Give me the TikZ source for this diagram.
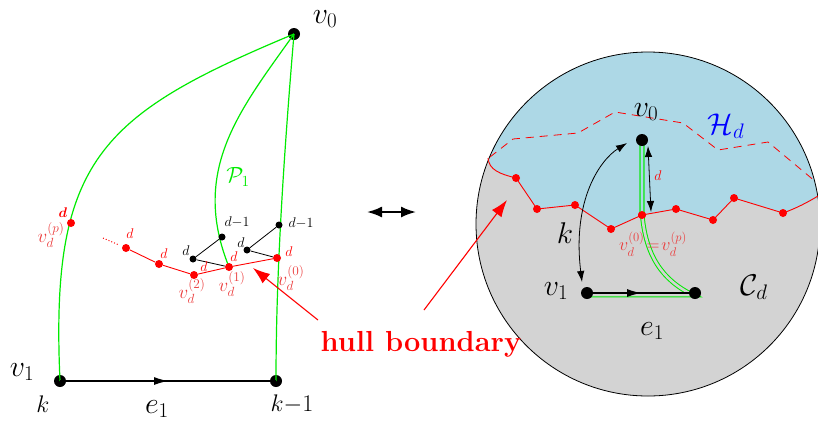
\documentclass[tikz,border=0pt]{standalone}
\usepackage{fix-cm}
\usepackage{amsmath}
\usetikzlibrary{arrows.meta,decorations.markings}
\definecolor{lblue}{HTML}{ADD8E6}
\definecolor{lgray}{HTML}{D3D3D3}
\definecolor{vgreen}{RGB}{0,235,0}
\definecolor{lred}{RGB}{235,60,60}
\tikzset{
  bdot/.style={circle,fill=black,inner sep=0pt,minimum size=12pt},
  sdot/.style={circle,fill=black,inner sep=0pt,minimum size=7pt},
  rdot/.style={circle,fill=red,inner sep=0pt,minimum size=8pt},
  lab/.style={inner sep=0pt,font=\fontsize{30}{32}\selectfont},
  mlab/.style={inner sep=0pt,font=\fontsize{24}{26}\selectfont},
  vlab/.style={inner sep=0pt,text=lred,font=\fontsize{19}{21}\selectfont},
  slab/.style={inner sep=0pt,font=\fontsize{14}{16}\selectfont},
  rslab/.style={slab,text=red},
  gline/.style={draw=vgreen,line width=1.2pt},
  rline/.style={draw=red,line width=0.9pt},
  bline/.style={draw=black,line width=0.8pt},
  eline/.style={draw=black,line width=1.1pt,postaction={decorate},
    decoration={markings,mark=at position #1 with {\arrow{Latex[length=14pt,width=8pt]}}}},
  ktip/.tip={Latex[length=11pt,width=7.5pt]},
  bigtip/.tip={Latex[length=17pt,width=12pt]},
  dtip/.tip={Latex[length=15pt,width=11pt]},
  gdouble/.style={draw=vgreen,line width=1pt,double distance=2.6pt},
}
\def\bluepath{(470,160) -- (488,158) .. controls (489,170) and (500,174) .. (516,178) -- (537,209) -- (575,205) -- (611,229) -- (642,215) -- (676,209) -- (713,220) -- (734,198) -- (783,213) .. controls (797,208) and (808,202) .. (825,195) -- (825,30) -- (470,30) -- cycle}
\def\greenpath{(642,140) -- (642,212) .. controls (645,255) and (662,280) .. (693,295) -- (589,295)}
\begin{document}
\begin{tikzpicture}[x=1pt,y=-1pt]
\useasboundingbox (0,0) rectangle (818,424);
% ---------- right disc ----------
\coordinate (C) at (648,224);
\fill[lgray] (C) circle[radius=172pt];
\begin{scope}
  \clip (C) circle[radius=172pt];
  \fill[lblue] \bluepath;
\end{scope}
\draw[black,line width=0.8pt] (C) circle[radius=172pt];
% dashed hull
\draw[red,line width=0.8pt,dash pattern=on 8pt off 6pt]
  (490,157) -- (513,139) -- (578,133) -- (615,112) -- (683,123) -- (718,150) -- (768,142) -- (816,182);
% red boundary
\node[rdot] (q1) at (516,178) {};
\node[rdot] (q2) at (537,209) {};
\node[rdot] (q3) at (575,205) {};
\node[rdot] (q4) at (611,229) {};
\node[rdot] (q5) at (642,215) {};
\node[rdot] (q6) at (676,209) {};
\node[rdot] (q7) at (713,220) {};
\node[rdot] (q8) at (734,198) {};
\node[rdot] (q9) at (783,213) {};
\coordinate (qa) at (488,158);
\coordinate (qb) at (818,196);
\draw[rline] (qa) .. controls (489,170) and (500,174) .. (q1.center) -- (q2.center) -- (q3.center) -- (q4.center) -- (q5.center) -- (q6.center) -- (q7.center) -- (q8.center) -- (q9.center) .. controls (797,208) and (808,202) .. (qb);
% green double path
\draw[gdouble,double=lgray] \greenpath;
\begin{scope}
  \clip (C) circle[radius=172pt];
  \clip \bluepath;
  \draw[gdouble,double=lblue] \greenpath;
\end{scope}
\node[rdot] at (q5) {};
% nodes
\node[bdot] (R0) at (642,140) {};
\node[bdot] (R1) at (587,293) {};
\node[bdot] (R2) at (695,293) {};
\draw[eline=0.5] (R1.center) -- (R2.center);
% k arrow
\coordinate (ka) at (627,143);
\coordinate (kb) at (582,282);
\draw[line width=0.8pt,ktip-ktip] (ka) .. controls (600,160) and (572,200) .. (kb);
% d arrow
\coordinate (da) at (648,146);
\coordinate (db) at (651,212);
\draw[line width=0.8pt,ktip-ktip] (da) -- (db);
% right labels
\node[lab] (lR0) at (646,112) {$v_0$};
\node[lab,text=blue] (lH) at (726,126) {$\mathcal{H}_d$};
\node[lab] (lC) at (754,287) {$\mathcal{C}_d$};
\node[lab] (lR1) at (556,291) {$v_1$};
\node[lab] (lRe) at (652,331) {$e_1$};
\node[lab] (lk) at (565,233) {$k$};
\node[rslab] (ld) at (658,176) {$d$};
\node[inner sep=0pt,text=lred,font=\fontsize{18}{20}\selectfont] (lvv) at (653,244) {$v_d^{(0)}\mkern2mu{=}\mkern2mu v_d^{(p)}$};
% ---------- left picture ----------
\node[bdot] (L0) at (294,34) {};
\node[bdot] (L1) at (60,381) {};
\node[bdot] (L2) at (276,381) {};
\draw[gline] (L0.center) .. controls (100,115) and (50,160) .. (L1.center);
\draw[gline] (L0.center) .. controls (240,110) and (190,170) .. (229,267);
\draw[gline] (L0.center) .. controls (280,200) and (276,300) .. (L2.center);
\draw[eline=0.5] (L1.center) -- (L2.center);
\node[rdot] (rp) at (71,223) {};
\node[rdot] (r4) at (126,248) {};
\node[rdot] (r3) at (159,264) {};
\node[rdot] (r2) at (194,275) {};
\node[rdot] (r1) at (229,267) {};
\node[rdot] (r0) at (277,258) {};
\node[sdot] (b1) at (193,259) {};
\node[sdot] (b2) at (222,237) {};
\node[sdot] (b3) at (247,250) {};
\node[sdot] (b4) at (279,225) {};
\coordinate (dt1) at (103,238);
\coordinate (dt2) at (119,245);
\draw[red,line width=1pt,dotted] (dt1) -- (dt2);
\draw[rline] (r4) -- (r3) -- (r2) -- (r1) -- (r0);
\draw[bline] (b1) -- (b2);
\draw[bline] (b1) -- (r1);
\draw[bline] (b3) -- (b4);
\draw[bline] (b3) -- (r0);
% left labels
\node[lab] (lL0) at (325,19) {$v_0$};
\node[lab] (lL1) at (22,372) {$v_1$};
\node[lab] (lLe) at (157,409) {$e_1$};
\node[mlab] (lLk) at (43,404) {$k$};
\node[mlab] (lLk1) at (292,404) {$k{-}1$};
\node[inner sep=0pt,text=vgreen,font=\fontsize{22}{24}\selectfont] (lP) at (238,177) {$\mathcal{P}_1$};
\node[rslab] at (63,213) {$\boldsymbol{d}$};
\node[vlab] at (51,235) {$v_d^{(p)}$};
\node[rslab] at (130,234) {$d$};
\node[rslab] at (164,254) {$d$};
\node[rslab] at (204,267) {$d$};
\node[rslab] at (234,257) {$d$};
\node[rslab] at (289,252) {$d$};
\node[slab] at (186,251) {$d$};
\node[slab] at (241,243) {$d$};
\node[slab] at (237,222) {$d{-}1$};
\node[slab] at (301,223) {$d{-}1$};
\node[vlab] at (192,291) {$v_d^{(2)}$};
\node[vlab] at (232,284) {$v_d^{(1)}$};
\node[vlab] at (291,278) {$v_d^{(0)}$};
% double arrow
\coordinate (xa) at (367,212);
\coordinate (xb) at (416,212);
\draw[line width=2pt,dtip-dtip] (xa) -- (xb);
% hull boundary
\node[anchor=base,inner sep=0pt,text=red,font=\fontsize{29}{31}\selectfont\bfseries] (hb) at (421,351) {hull boundary};
\coordinate (ha1) at (318,320);
\coordinate (ht1) at (253,268);
\coordinate (ha2) at (424,310);
\coordinate (ht2) at (507,200);
\draw[red,line width=1.1pt,-bigtip] (ha1) -- (ht1);
\draw[red,line width=1.1pt,-bigtip] (ha2) -- (ht2);
\end{tikzpicture}
\end{document}
